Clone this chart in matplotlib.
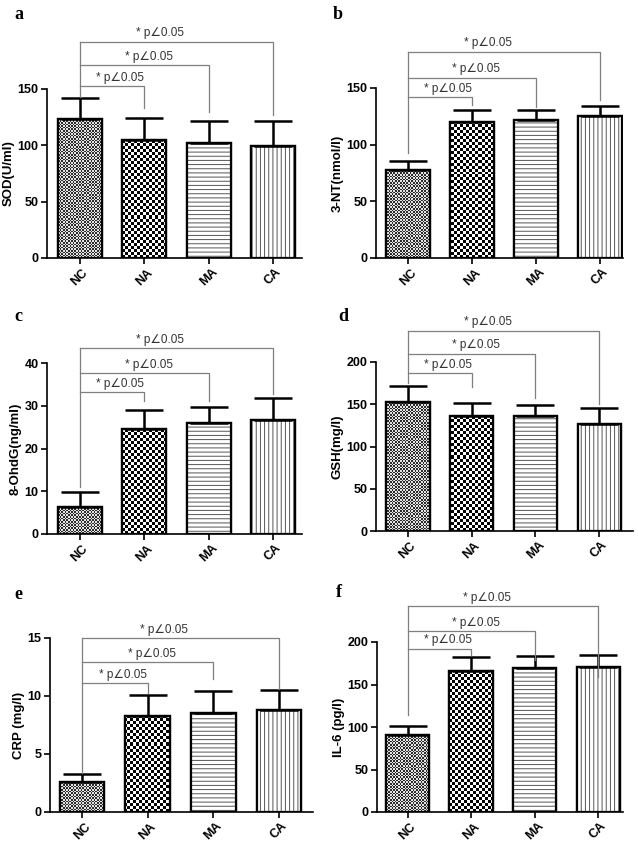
import numpy as np
import matplotlib
matplotlib.use("Agg")
import matplotlib.pyplot as plt

plt.rcParams['font.family'] = ['Liberation Sans', 'DejaVu Sans']
plt.rcParams['hatch.linewidth'] = 0.7

# data
groups = ["NC", "NA", "MA", "CA"]

sod_mean = [123, 105, 102, 99]
sod_top = [142, 124, 122, 122]
nt_mean = [78, 120, 122, 125]
nt_top = [86, 131, 131, 134]
ohdg_mean = [6.2, 24.5, 26.0, 26.7]
ohdg_top = [9.8, 29.0, 29.8, 31.8]
gsh_mean = [153, 136, 136, 127]
gsh_top = [172, 151, 149, 145]
crp_mean = [2.6, 8.3, 8.55, 8.8]
crp_top = [3.3, 10.1, 10.4, 10.5]
il6_mean = [91, 166, 169, 171]
il6_top = [101, 182, 184, 185]

# brackets: NC start, line heights (NA, MA, CA), drop ends (NA, MA, CA)
sod_brk = [143, [152.6, 171, 192], [133, 130, 127]]
nt_brk = [93, [142, 159, 182], [135, 133, 139]]
ohdg_brk = [11, [33.2, 37.6, 43.5], [31, 31, 32.8]]
gsh_brk = [175, [187, 210, 237], [170, 157, 150]]
crp_brk = [3.4, [11.1, 12.9, 15.0], [10.3, 11.5, 10.6]]
il6_brk = [114, [192, 213, 242], [185, 179, 159]]

label_txt = "* p\u22200.05"

panels = [
    ("a", "SOD(U/ml)", sod_mean, sod_top, sod_brk, [0, 50, 100, 150]),
    ("b", "3-NT(nmol/l)", nt_mean, nt_top, nt_brk, [0, 50, 100, 150]),
    ("c", "8-OhdG(ng/ml)", ohdg_mean, ohdg_top, ohdg_brk, [0, 10, 20, 30, 40]),
    ("d", "GSH(mg/l)", gsh_mean, gsh_top, gsh_brk, [0, 50, 100, 150, 200]),
    ("e", "CRP (mg/l)", crp_mean, crp_top, crp_brk, [0, 5, 10, 15]),
    ("f", "IL-6 (pg/l)", il6_mean, il6_top, il6_brk, [0, 50, 100, 150, 200]),
]

W, H = 638, 850
fig = plt.figure(figsize=(W / 100, H / 100), dpi=100)

# axes rectangles in pixels: left, right, top, bottom ; xlim
rects = [
    (47, 302, 89, 258, (-0.51, 3.45)),
    (376, 623, 88, 258, (-0.5, 3.36)),
    (47, 302, 363, 534, (-0.51, 3.45)),
    (376, 633, 362, 531, (-0.5, 3.53)),
    (50, 313, 638, 812, (-0.49, 3.52)),
    (377, 623, 642, 812, (-0.48, 3.39)),
]
letter_pos = [(14, 6), (333, 6), (14, 308), (338, 308), (14, 586), (336, 584)]


def checker(ax, patch, cell, lo, hi, xlim, ylim, wpx, hpx):
    nx = int(round(wpx / cell))
    ny = int(round(hpx / cell))
    ii, jj = np.mgrid[0:ny, 0:nx]
    img = ((ii + jj) % 2).astype(float)
    im = ax.imshow(img, cmap="gray", vmin=0, vmax=1, extent=(xlim[0], xlim[1], ylim[0], ylim[1]),
                   interpolation="nearest", aspect="auto", zorder=2)
    im.set_clim(-lo, 1 + (1 - hi))
    im.set_clip_path(patch)


x = np.arange(4)
bw = 0.68
for (let, ylab, mean, top, brk, ticks), (l, r, t, b, xlim), lp in zip(panels, rects, letter_pos):
    ax = fig.add_axes([l / W, 1 - b / H, (r - l) / W, (b - t) / H])
    ymax = ticks[-1]
    ax.set_xlim(*xlim)
    ax.set_ylim(0, ymax)

    # bars
    outline = ax.bar(x, mean, width=bw, facecolor="white", edgecolor="black", linewidth=1.6, zorder=1)
    ax.bar(x, mean, width=bw, facecolor="none", edgecolor="black", linewidth=1.6, zorder=4)
    wpx, hpx = r - l, b - t
    checker(ax, outline[0], 1.6, 0.25, 0.85, xlim, (0, ymax), wpx, hpx)
    checker(ax, outline[1], 3.0, 0.0, 1.0, xlim, (0, ymax), wpx, hpx)
    ax.bar(x[2], mean[2], width=bw, facecolor="white", edgecolor="#555555", hatch="----", linewidth=0, zorder=2)
    ax.bar(x[3], mean[3], width=bw, facecolor="white", edgecolor="#555555", hatch="||||", linewidth=0, zorder=2)

    # error bars (upper only)
    err = [t_ - m for t_, m in zip(top, mean)]
    ax.errorbar(x, mean, yerr=[[0] * 4, err], fmt="none", ecolor="black", elinewidth=1.8,
                capsize=14, capthick=1.8, zorder=3)

    # significance brackets
    start, heights, ends = brk
    ax.plot([0, 0], [start, max(heights)], color="#7f7f7f", lw=0.9, clip_on=False, zorder=5)
    tx = [0.63, 1.07, 1.25]
    for k in range(3):
        ax.plot([0, k + 1, k + 1], [heights[k], heights[k], ends[k]], color="#7f7f7f", lw=0.9,
                clip_on=False, zorder=5)
        ax.text(tx[k], heights[k] + ymax * 0.014, label_txt, ha="center", va="bottom",
                fontsize=8.5, color="#333333", clip_on=False)

    # axes style
    for s in ["top", "right"]:
        ax.spines[s].set_visible(False)
    for s in ["left", "bottom"]:
        ax.spines[s].set_linewidth(1.2)
    ax.set_yticks(ticks)
    ax.set_yticklabels([str(v) for v in ticks], fontweight="bold", fontsize=9)
    ax.set_xticks(x)
    ax.set_xticklabels(groups, rotation=45, fontweight="bold", fontsize=9, ha="center",
                       rotation_mode="default")
    ax.tick_params(width=1.2, length=4, direction="out", pad=2)
    ax.set_ylabel(ylab, fontweight="bold", fontsize=9.5, labelpad=2)

    fig.text(lp[0] / W, 1 - lp[1] / H, let, fontfamily="Liberation Serif", fontweight="bold",
             fontsize=13, va="top", ha="left")

fig.savefig("out.png", dpi=100)
